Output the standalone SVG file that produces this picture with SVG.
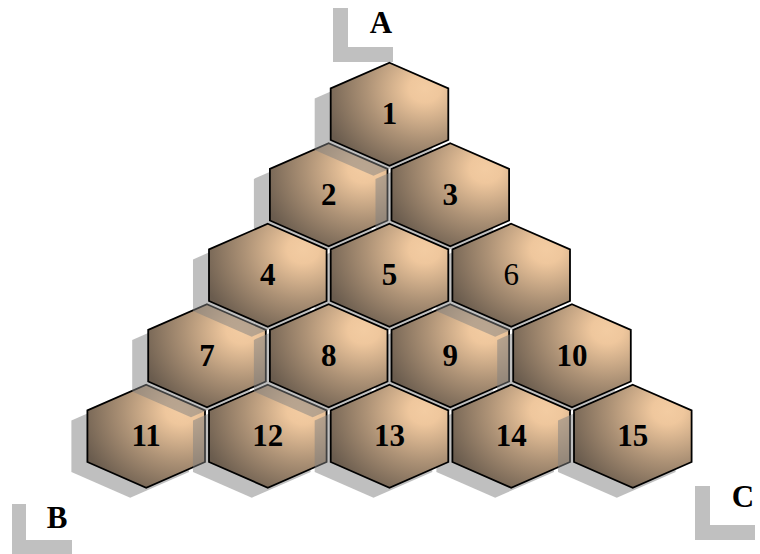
<svg xmlns="http://www.w3.org/2000/svg" xmlns:xlink="http://www.w3.org/1999/xlink" width="760" height="554" viewBox="0 0 760 554">
<style>
.hex{fill:url(#g);stroke:#000;stroke-width:1.8;stroke-linejoin:miter}
.sh{fill:#808080;fill-opacity:.5}
.lbl{font-family:"Liberation Serif","Times New Roman",serif;font-weight:bold;font-size:31px;text-anchor:middle;fill:#000}
.reg{font-weight:normal}
.mark{fill:#c0c0c0}
</style>
<defs>
<radialGradient id="g" cx="0.8" cy="0.25" r="0.9" fx="0.8" fy="0.25">
<stop offset="0" stop-color="#f3cca2"/>
<stop offset="0.15" stop-color="#efc79d"/>
<stop offset="0.55" stop-color="#ad9276"/>
<stop offset="1" stop-color="#6a5c4e"/>
</radialGradient>
<polygon id="hp" points="0,-51.5 58.8,-25.8 58.8,25.8 0,51.5 -58.8,25.8 -58.8,-25.8"/>
</defs>
<g id="marker-A"><path class="mark" d="M333,8h15v39h45v15h-60z"/><text class="lbl" x="381" y="33">A</text></g>
<g id="marker-B"><path class="mark" d="M12,504h14v36h46v14h-60z"/><text class="lbl" x="57" y="528">B</text></g>
<g id="marker-C"><path class="mark" d="M695,486h15v39h45v15h-60z"/><text class="lbl" x="743" y="507">C</text></g>
<g id="hexes">
<g id="hex-11" transform="translate(146.2,436.2)"><use href="#hp" class="sh" x="-16" y="10"/><use href="#hp" class="hex"/><text class="lbl" y="10">11</text></g>
<g id="hex-2" transform="translate(328.7,194.7)"><use href="#hp" class="sh" x="-16" y="10"/><use href="#hp" class="hex"/><text class="lbl" y="10">2</text></g>
<g id="hex-9" transform="translate(450.3,355.7)"><use href="#hp" class="sh" x="-16" y="10"/><use href="#hp" class="hex"/><text class="lbl" y="10">9</text></g>
<g id="hex-10" transform="translate(572,355.7)"><use href="#hp" class="sh" x="-16" y="10"/><use href="#hp" class="hex"/><text class="lbl" y="10">10</text></g>
<g id="hex-14" transform="translate(511.2,436.2)"><use href="#hp" class="sh" x="-16" y="10"/><use href="#hp" class="hex"/><text class="lbl" y="10">14</text></g>
<g id="hex-15" transform="translate(632.8,436.2)"><use href="#hp" class="sh" x="-16" y="10"/><use href="#hp" class="hex"/><text class="lbl" y="10">15</text></g>
<g id="hex-12" transform="translate(267.8,436.2)"><use href="#hp" class="sh" x="-16" y="10"/><use href="#hp" class="hex"/><text class="lbl" y="10">12</text></g>
<g id="hex-13" transform="translate(389.5,436.2)"><use href="#hp" class="sh" x="-16" y="10"/><use href="#hp" class="hex"/><text class="lbl" y="10">13</text></g>
<g id="hex-7" transform="translate(207,355.7)"><use href="#hp" class="sh" x="-16" y="10"/><use href="#hp" class="hex"/><text class="lbl" y="10">7</text></g>
<g id="hex-3" transform="translate(450.3,194.7)"><use href="#hp" class="sh" x="-16" y="10"/><use href="#hp" class="hex"/><text class="lbl" y="10">3</text></g>
<g id="hex-6" transform="translate(511.2,275.2)"><use href="#hp" class="sh" x="-16" y="10"/><use href="#hp" class="hex"/><text class="lbl reg" y="10">6</text></g>
<g id="hex-5" transform="translate(389.5,275.2)"><use href="#hp" class="sh" x="-16" y="10"/><use href="#hp" class="hex"/><text class="lbl" y="10">5</text></g>
<g id="hex-4" transform="translate(267.8,275.2)"><use href="#hp" class="sh" x="-16" y="10"/><use href="#hp" class="hex"/><text class="lbl" y="10">4</text></g>
<g id="hex-8" transform="translate(328.7,355.7)"><use href="#hp" class="sh" x="-16" y="10"/><use href="#hp" class="hex"/><text class="lbl" y="10">8</text></g>
<g id="hex-1" transform="translate(389.5,114.2)"><use href="#hp" class="sh" x="-16" y="10"/><use href="#hp" class="hex"/><text class="lbl" y="10">1</text></g>
</g>
</svg>
